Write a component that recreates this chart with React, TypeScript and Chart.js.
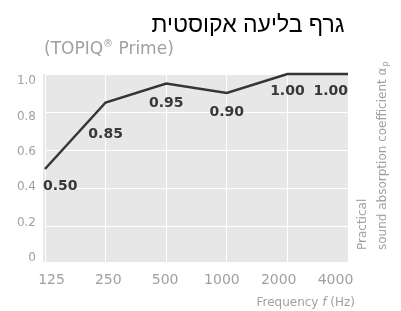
import React, { useEffect, useRef } from "react";
import { Chart, registerables } from "chart.js";

Chart.register(...registerables);

const categories = ["125", "250", "500", "1000", "2000", "4000"];
const absorption = [0.5, 0.85, 0.95, 0.9, 1.0, 1.0];
const valueLabels = ["0.50", "0.85", "0.95", "0.90", "1.00", "1.00"];
const yTickValues = [0, 0.2, 0.4, 0.6, 0.8, 1.0];

const titleText = "גרף בליעה אקוסטית";
const subtitleMain = "(TOPIQ";
const subtitleMark = "®";
const subtitleRest = " Prime)";
const xAxisTitle = "Frequency ";
const xAxisTitleItalic = "f";
const xAxisTitleUnit = " (Hz)";
const yAxisLine1 = "Practical";
const yAxisLine2 = "sound absorption coefficient α";
const yAxisSub = "p";

// label styling (alignment / offset below point)
const labelAlign: CanvasTextAlign[] = ["left", "center", "center", "center", "center", "right"];
const labelDy = [17, 32, 20, 19, 17, 17];

const GRAY = "#a0a0a0";

export default function App() {
  const ref = useRef<HTMLCanvasElement | null>(null);

  useEffect(() => {
    document.body.style.margin = "0";
    const canvas = ref.current!;
    const bgPlugin = {
      id: "bg",
      beforeDraw(chart: any) {
        const { ctx, chartArea: a } = chart;
        ctx.save();
        ctx.fillStyle = "#e7e7e7";
        ctx.fillRect(a.left - 2, a.top, a.right - a.left + 3, a.bottom - a.top - 2);
        ctx.restore();
      },
    };
    const textPlugin = {
      id: "texts",
      afterDatasetsDraw(chart: any) {
        const { ctx } = chart;
        const meta = chart.getDatasetMeta(0);
        ctx.save();
        ctx.fillStyle = "#383838";
        ctx.font = "bold 14px 'DejaVu Sans'";
        ctx.textBaseline = "middle";
        meta.data.forEach((pt: any, i: number) => {
          ctx.textAlign = labelAlign[i];
          let x = pt.x;
          if (labelAlign[i] === "left") x -= 2;
          ctx.fillText(valueLabels[i], x, pt.y + labelDy[i]);
        });
        ctx.restore();
      },
      afterDraw(chart: any) {
        const { ctx, chartArea: a } = chart;
        ctx.save();
        // title
        ctx.fillStyle = "#000";
        ctx.font = "23px 'Liberation Sans'";
        ctx.textAlign = "center";
        ctx.textBaseline = "alphabetic";
        ctx.direction = "rtl";
        ctx.fillText(titleText, 248, 32);
        ctx.direction = "ltr";
        // subtitle
        ctx.fillStyle = GRAY;
        ctx.textAlign = "left";
        ctx.font = "17px 'DejaVu Sans'";
        let sx = 44;
        ctx.fillText(subtitleMain, sx, 54);
        sx += ctx.measureText(subtitleMain).width;
        ctx.font = "10px 'DejaVu Sans'";
        ctx.fillText(subtitleMark, sx, 47);
        sx += ctx.measureText(subtitleMark).width;
        ctx.font = "17px 'DejaVu Sans'";
        ctx.fillText(subtitleRest, sx, 54);
        // x axis title (right aligned)
        ctx.font = "12px 'DejaVu Sans'";
        const w1 = ctx.measureText(xAxisTitle).width;
        ctx.font = "italic 12px 'DejaVu Sans'";
        const w2 = ctx.measureText(xAxisTitleItalic).width;
        ctx.font = "12px 'DejaVu Sans'";
        const w3 = ctx.measureText(xAxisTitleUnit).width;
        let tx = a.right + 7 - (w1 + w2 + w3);
        ctx.textBaseline = "middle";
        ctx.fillText(xAxisTitle, tx, 303);
        tx += w1;
        ctx.font = "italic 12px 'DejaVu Sans'";
        ctx.fillText(xAxisTitleItalic, tx, 303);
        tx += w2;
        ctx.font = "12px 'DejaVu Sans'";
        ctx.fillText(xAxisTitleUnit, tx, 303);
        // right rotated axis title
        ctx.save();
        ctx.translate(363, a.bottom - 14);
        ctx.rotate(-Math.PI / 2);
        ctx.font = "12px 'DejaVu Sans'";
        ctx.textAlign = "left";
        ctx.fillText(yAxisLine1, 0, 0);
        ctx.fillText(yAxisLine2, 0, 20);
        const lw = ctx.measureText(yAxisLine2).width;
        ctx.font = "8px 'DejaVu Sans'";
        ctx.fillText(yAxisSub, lw + 1, 23);
        ctx.restore();
        ctx.restore();
      },
    };

    const chart = new Chart(canvas, {
      type: "line",
      data: {
        labels: categories,
        datasets: [
          {
            data: absorption,
            borderColor: "#353535",
            borderWidth: 2.5,
            pointRadius: 0,
            tension: 0,
            fill: false,
            clip: false as any,
          },
        ],
      },
      options: {
        animation: false,
        responsive: false,
        layout: { padding: { top: 74, right: 53, left: 0, bottom: 0 } },
        plugins: { legend: { display: false }, tooltip: { enabled: false }, title: { display: false } },
        scales: {
          x: {
            type: "category",
            offset: false,
            position: "bottom",
            grid: { color: "#ffffff", lineWidth: 1, drawTicks: false },
            border: { display: false },
            ticks: { display: false },
            afterFit: (s: any) => { s.height = 0; },
          },
          xl: {
            type: "linear",
            position: "bottom",
            min: -0.1144,
            max: 5.22,
            grid: { display: false, drawTicks: false },
            border: { display: false },
            afterBuildTicks: (s: any) => { s.ticks = categories.map((_, i) => ({ value: i })); },
            ticks: {
              padding: 8,
              color: GRAY,
              font: { family: "DejaVu Sans", size: 14 },
              maxRotation: 0,
              autoSkip: false,
              callback: (v: any) => categories[v] ?? "",
            },
            afterFit: (s: any) => { s.height = 47; },
          },
          y: {
            min: 0,
            max: 1,
            position: "left",
            grid: { color: "#ffffff", lineWidth: 1, drawTicks: false },
            border: { display: false },
            ticks: { display: false, stepSize: 0.2 },
            afterFit: (s: any) => { s.width = 0; },
          },
          yl: {
            type: "linear",
            position: "left",
            min: -0.0339,
            max: 1.0395,
            grid: { display: false, drawTicks: false },
            border: { display: false },
            afterBuildTicks: (s: any) => { s.ticks = yTickValues.map((v) => ({ value: v })); },
            ticks: {
              padding: 9,
              color: GRAY,
              font: { family: "DejaVu Sans", size: 12 },
              callback: (v: any) => (v === 0 ? "0" : Number(v).toFixed(1)),
            },
            afterFit: (s: any) => { s.width = 45; },
          },
        },
      },
      plugins: [bgPlugin, textPlugin],
    });
    return () => chart.destroy();
  }, []);

  return (
    <div style={{ position: "absolute", left: 0, top: 0, width: 401, height: 311 }}>
      <canvas ref={ref} width={401} height={311} style={{ width: 401, height: 311, display: "block" }} />
    </div>
  );
}
